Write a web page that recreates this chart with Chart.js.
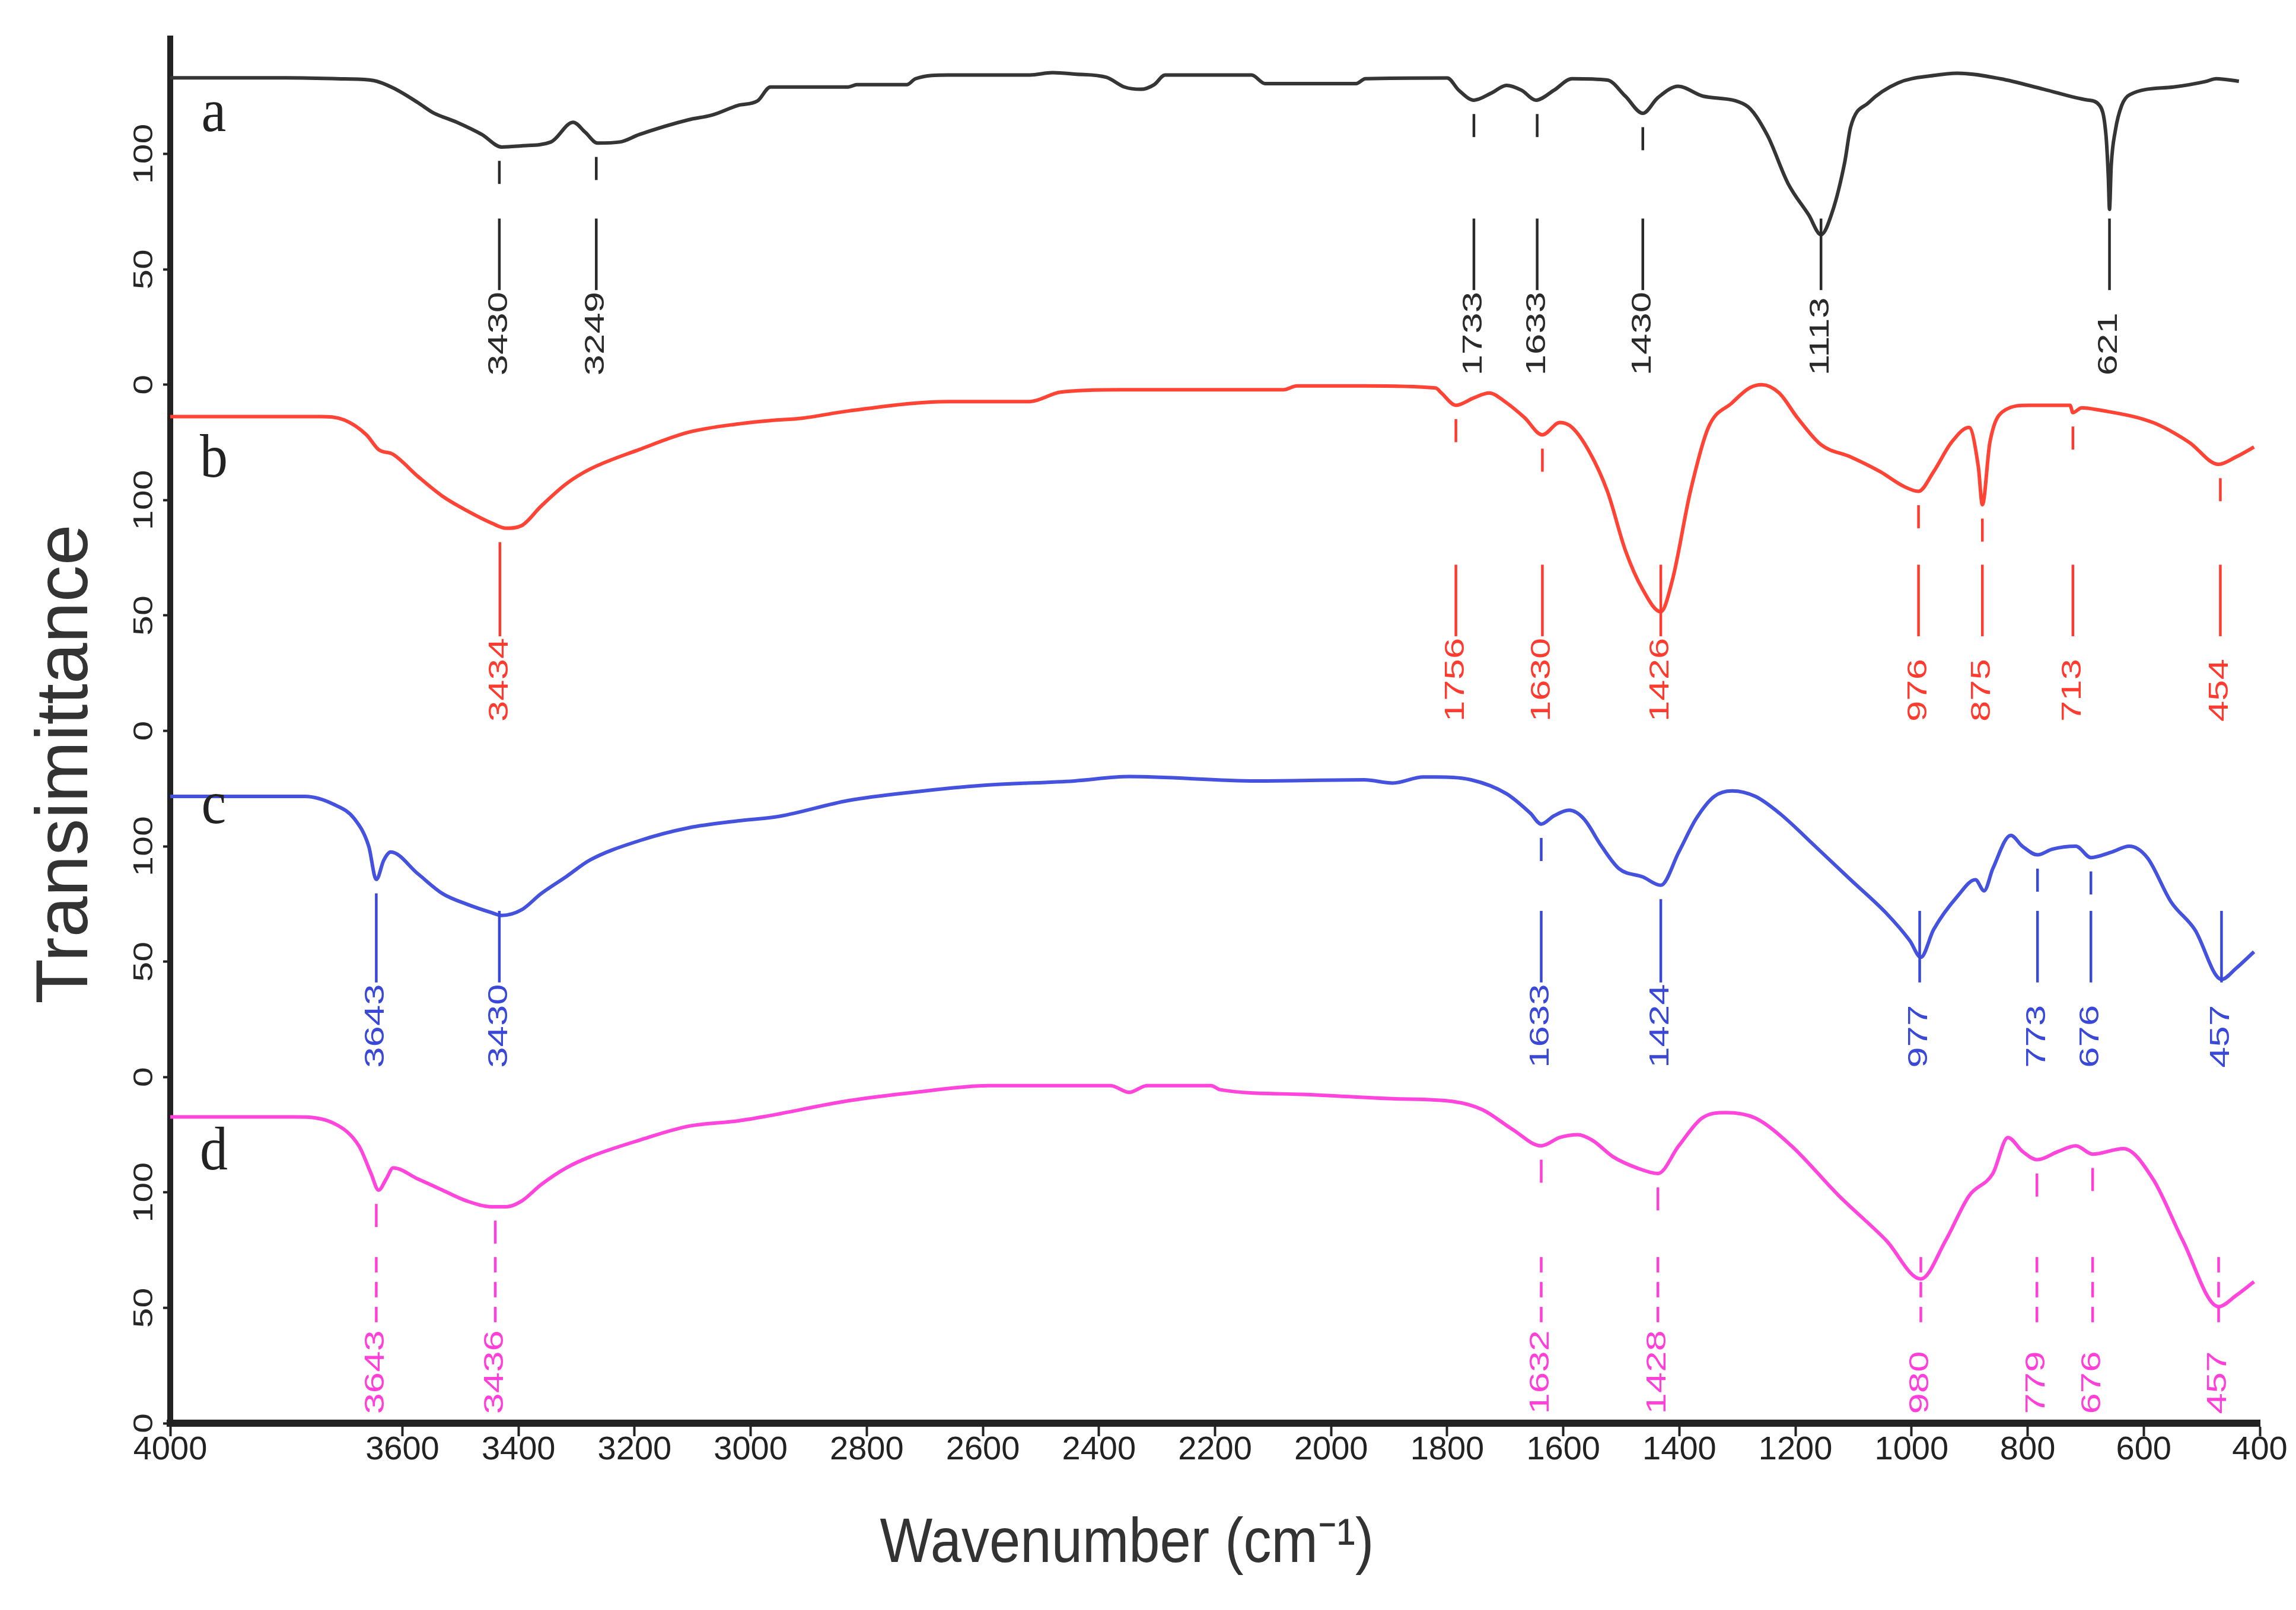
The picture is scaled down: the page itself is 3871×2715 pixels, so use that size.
<!DOCTYPE html>
<html>
<head>
<meta charset="utf-8">
<title>FTIR spectra</title>
<script src="https://cdn.jsdelivr.net/npm/chart.js@4.4.0/dist/chart.umd.min.js"></script>
<style>
  html, body { margin: 0; padding: 0; background: #fff; }
</style>
</head>
<body>
<canvas id="ftir" width="3871" height="2715"></canvas>
<script>
// wavenumber (cm-1) / transmittance pairs, one set per sample
var waveA = [4000, 3800, 3700, 3650, 3616, 3573, 3548, 3506, 3463, 3429, 3395, 3344, 3306, 3285, 3264, 3225, 3192, 3107, 3067, 3022, 2988, 2966, 2832, 2817, 2731, 2716, 2660, 2519, 2480, 2441, 2387, 2356, 2328, 2305, 2286, 2137, 2114, 1957, 1941, 1800, 1780, 1754, 1723, 1698, 1672, 1647, 1616, 1585, 1524, 1493, 1463, 1437, 1402, 1359, 1286, 1249, 1213, 1177, 1156, 1136, 1115, 1105, 1074, 1023, 962, 921, 847, 772, 698, 676, 665, 661, 659, 656, 649, 638, 624, 549, 493, 475, 436];
var transA = [133, 133, 132.5, 131.8, 128.6, 122.2, 118, 113.7, 108.4, 103, 103.5, 105.2, 113.7, 109.4, 104.7, 105.2, 108.4, 114.8, 116.8, 121, 123, 129, 129, 130, 130, 132.6, 134.2, 134.2, 135.2, 134.6, 133.2, 129, 128, 130, 134.2, 134.2, 130.5, 130.5, 132.6, 132.9, 127.6, 123.3, 126.5, 129.7, 127.6, 123.3, 127.6, 132.6, 132, 125, 117.6, 124.4, 129.3, 125, 121.2, 108.4, 87.3, 73.5, 65, 75.3, 96.6, 111.6, 122.2, 130.8, 134, 135, 132.6, 128, 123.4, 121, 108, 90, 76, 95, 110, 121, 125.7, 129, 131.4, 132.6, 131.5];

var waveB = [4000, 3742, 3700, 3662, 3641, 3616, 3573, 3531, 3488, 3446, 3421, 3395, 3361, 3318, 3277, 3192, 3107, 3022, 2965, 2911, 2832, 2660, 2519, 2466, 2363, 2082, 2059, 1943, 1820, 1810, 1785, 1754, 1728, 1698, 1667, 1636, 1606, 1585, 1555, 1524, 1493, 1463, 1432, 1412, 1381, 1350, 1309, 1279, 1258, 1228, 1197, 1156, 1105, 1054, 1013, 988, 962, 931, 901, 885, 878, 865, 839, 798, 727, 722, 707, 676, 584, 522, 471, 441, 410];
var transB = [136.2, 136.2, 134.7, 128.3, 121.9, 119.8, 110.2, 101.7, 95.3, 90, 87.8, 88.9, 97.4, 107, 113.4, 121.9, 129.4, 133, 134.5, 135.5, 138.6, 142.7, 142.7, 146.8, 147.8, 147.8, 149.5, 149.5, 148.6, 146.4, 141.1, 144.3, 146.4, 142.2, 135.8, 128.3, 133.6, 131.5, 120.9, 103.8, 78.2, 61.2, 51.6, 65.4, 103.8, 131.5, 142.2, 148.6, 150, 146.4, 135.8, 124, 118.7, 112.3, 105.9, 103.8, 112.3, 125.1, 131.5, 114.5, 98, 125.1, 139, 141.1, 141.1, 137.9, 140, 139, 133.6, 125.1, 115.5, 118.7, 123];

var waveC = [4000, 3768, 3717, 3683, 3658, 3645, 3632, 3620, 3573, 3531, 3488, 3446, 3429, 3395, 3361, 3318, 3277, 3192, 3107, 3022, 2950, 2832, 2716, 2598, 2442, 2348, 2129, 1943, 1894, 1841, 1820, 1759, 1698, 1657, 1638, 1616, 1590, 1565, 1534, 1504, 1463, 1432, 1401, 1371, 1340, 1309, 1269, 1228, 1166, 1105, 1044, 1003, 984, 962, 921, 890, 875, 860, 829, 809, 783, 758, 717, 691, 655, 625, 594, 553, 512, 466, 441, 410];
var transC = [121.6, 121.6, 118, 112, 100, 85.6, 94, 97.5, 88, 79.5, 74.8, 71.2, 70, 72.4, 79.5, 86.8, 94, 102.4, 108, 111, 113, 119.8, 123.6, 126.4, 128.3, 130.2, 128.3, 128.8, 127.4, 130, 130, 128.8, 122.8, 114.4, 109.6, 113.2, 115.6, 112, 100, 90.3, 86.7, 83.1, 97.5, 112, 121.6, 124, 121.6, 114.4, 100, 85.5, 71.1, 59.1, 51.9, 63.9, 78.3, 85.5, 80.7, 90.3, 104.7, 100, 96.3, 98.7, 100, 95.1, 97.5, 100, 95.1, 75.9, 63.9, 42.3, 47.1, 54.3];

var waveD = [4000, 3785, 3717, 3675, 3654, 3641, 3628, 3616, 3573, 3531, 3488, 3446, 3421, 3395, 3361, 3318, 3277, 3192, 3107, 3022, 2973, 2832, 2716, 2590, 2380, 2348, 2317, 2207, 2191, 2050, 1894, 1790, 1739, 1688, 1638, 1606, 1575, 1550, 1514, 1473, 1437, 1401, 1361, 1320, 1269, 1207, 1125, 1044, 984, 941, 901, 860, 834, 809, 783, 747, 717, 688, 635, 584, 533, 471, 441, 410];
var transD = [132.7, 132.7, 129.8, 120.2, 108.2, 101, 105.8, 110.6, 105.8, 101, 96.2, 93.8, 93.8, 96.2, 103.4, 110.6, 115.4, 122.6, 128.7, 131, 133, 139.7, 143.4, 146.3, 146.3, 143.4, 146.3, 146.3, 144.5, 142.5, 140.6, 139.4, 135.8, 127.4, 120.2, 123.8, 125, 122.6, 115.4, 110.6, 108.2, 120.2, 132.2, 134.6, 132.2, 120.2, 98.5, 79.3, 62.5, 79.3, 98.5, 108.2, 123.8, 117.8, 114.2, 117.8, 120.2, 116.6, 119, 105.8, 79.3, 50.5, 55.3, 61.3];

// marked bands: where the marker sits and the number printed next to it
var peakPosA = [3433, 3266, 1754, 1645, 1463, 1156, 659];
var peakTextA = ['3430', '3249', '1733', '1633', '1430', '1113', '621'];
var peakPosB = [3432, 1785, 1636, 1432, 988, 878, 722, 468];
var peakTextB = ['3434', '1756', '1630', '1426', '976', '875', '713', '454'];
var peakPosC = [3645, 3433, 1638, 1432, 986, 783, 691, 466];
var peakTextC = ['3643', '3430', '1633', '1424', '977', '773', '676', '457'];
var peakPosD = [3645, 3440, 1638, 1437, 984, 784, 688, 471];
var peakTextD = ['3643', '3436', '1632', '1428', '980', '779', '676', '457'];

var sampleNames = ['a', 'b', 'c', 'd'];
var panelOffsets = [450, 300, 150, 0]; // traces are stacked, 150 units apart
var xTickValues = [4000, 3600, 3400, 3200, 3000, 2800, 2600, 2400, 2200, 2000, 1800, 1600, 1400, 1200, 1000, 800, 600, 400];
var yTickValues = [0, 50, 100, 150, 200, 250, 300, 350, 400, 450, 500, 550];

var lineColors = ['#353535', '#ff4436', '#4552de', '#ff45dc'];
var textColors = ['#2a2a2a', '#ff3b30', '#3a48d8', '#ff3fd8'];
var SANS = '"Liberation Sans", Arial, sans-serif';

var samples = [
    { wave: waveA, trans: transA, pos: peakPosA, text: peakTextA },
    { wave: waveB, trans: transB, pos: peakPosB, text: peakTextB },
    { wave: waveC, trans: transC, pos: peakPosC, text: peakTextC },
    { wave: waveD, trans: transD, pos: peakPosD, text: peakTextD }
];

function valueAt(wave, trans, w) {
    for (var i = 0; i < wave.length - 1; i++) {
        if (w <= wave[i] && w >= wave[i + 1]) {
            var t = (wave[i] - w) / (wave[i] - wave[i + 1]);
            return trans[i] + t * (trans[i + 1] - trans[i]);
        }
    }
    return trans[trans.length - 1];
}

function lowestNear(wave, trans, w) {
    var low = valueAt(wave, trans, w);
    for (var i = 0; i < wave.length; i++) {
        if (Math.abs(wave[i] - w) <= 18 && trans[i] < low) low = trans[i];
    }
    return low;
}

function drawText(ctx, txt, x, y, opt) {
    ctx.save();
    ctx.translate(x, y);
    if (opt.rotate) ctx.rotate(-Math.PI / 2);
    ctx.scale(opt.sx || 1, opt.sy || 1);
    ctx.font = opt.font;
    ctx.fillStyle = opt.color;
    ctx.textAlign = opt.align || 'center';
    ctx.textBaseline = opt.baseline || 'middle';
    ctx.fillText(txt, 0, 0);
    ctx.restore();
}

var labelPlugin = {
    id: 'ftirLabels',
    afterDraw: function (chart) {
        var ctx = chart.ctx;
        var xs = chart.scales.x;
        var ys = chart.scales.y;
        var area = chart.chartArea;

        // repeated 0/50/100 labels for each stacked trace
        yTickValues.forEach(function (v) {
            drawText(ctx, String(v % 150), area.left - 43, ys.getPixelForValue(v),
                { rotate: true, sx: 1.3, font: '47px ' + SANS, color: '#262626' });
        });

        drawText(ctx, 'Transimittance', area.left - 174, area.top + (area.bottom - area.top) * 0.524,
            { rotate: true, font: '124px ' + SANS, color: '#333' });
        drawText(ctx, 'Wavenumber (cm\u207B\u00B9)', area.left + 1613, area.bottom + 205,
            { sy: 1.12, font: '94px ' + SANS, color: '#333' });

        samples.forEach(function (s, i) {
            var off = panelOffsets[i];
            drawText(ctx, sampleNames[i], xs.getPixelForValue(3925), ys.getPixelForValue(off + 117),
                { sy: 1.1, font: '94px "Liberation Serif", "Times New Roman", serif', color: '#222' });

            ctx.save();
            ctx.strokeStyle = textColors[i];
            ctx.lineWidth = 4.5;
            var longDash = i === 3 ? [26, 16] : [];
            s.pos.forEach(function (p, k) {
                var px = xs.getPixelForValue(p);
                var seg = function (v1, v2, dash) {
                    ctx.setLineDash(dash);
                    ctx.beginPath();
                    ctx.moveTo(px, ys.getPixelForValue(off + v1));
                    ctx.lineTo(px, ys.getPixelForValue(off + v2));
                    ctx.stroke();
                };
                var top = lowestNear(s.wave, s.trans, p) - 6;
                if (top - 10 > 76) {
                    seg(top, top - 10, []);
                    seg(72, 41, longDash);
                } else if (top > 72) {
                    seg(top, 41, longDash);
                } else {
                    seg(72, 41, longDash);
                }
                drawText(ctx, s.text[k], px, ys.getPixelForValue(off + 4),
                    { rotate: true, sx: 1.35, align: 'left', font: '47px ' + SANS, color: textColors[i] });
            });
            ctx.restore();
        });
    }
};

var datasets = samples.map(function (s, i) {
    return {
        label: sampleNames[i],
        data: s.wave.map(function (w, j) { return { x: w, y: s.trans[j] + panelOffsets[i] }; }),
        borderColor: lineColors[i],
        borderWidth: 6,
        pointRadius: 0,
        cubicInterpolationMode: 'monotone',
        fill: false,
        borderJoinStyle: 'round'
    };
});

var chart = new Chart(document.getElementById('ftir'), {
    type: 'line',
    data: { datasets: datasets },
    options: {
        responsive: false,
        animation: false,
        devicePixelRatio: 1,
        layout: { padding: { left: 0, top: 65, right: 61, bottom: 0 } },
        plugins: { legend: { display: false }, tooltip: { enabled: false } },
        scales: {
            x: {
                type: 'linear',
                reverse: true,
                min: 400,
                max: 4000,
                afterBuildTicks: function (scale) {
                    scale.ticks = xTickValues.map(function (v) { return { value: v }; });
                },
                afterFit: function (scale) { scale.height = 315; },
                grid: { drawOnChartArea: false, drawTicks: true, tickLength: 22, tickWidth: 4, color: '#222' },
                border: { display: true, width: 12, color: '#222' },
                ticks: {
                    autoSkip: false,
                    maxRotation: 0,
                    padding: -10,
                    color: '#222',
                    font: { size: 56, family: SANS },
                    callback: function (v) { return String(v); }
                }
            },
            y: {
                type: 'linear',
                min: 0,
                max: 600,
                afterBuildTicks: function (scale) {
                    scale.ticks = yTickValues.map(function (v) { return { value: v }; });
                },
                afterFit: function (scale) { scale.width = 287; },
                grid: { drawOnChartArea: false, drawTicks: true, tickLength: 12, tickWidth: 4, color: '#222' },
                border: { display: true, width: 10, color: '#222' },
                ticks: { display: false }
            }
        }
    },
    plugins: [labelPlugin]
});
</script>
</body>
</html>
